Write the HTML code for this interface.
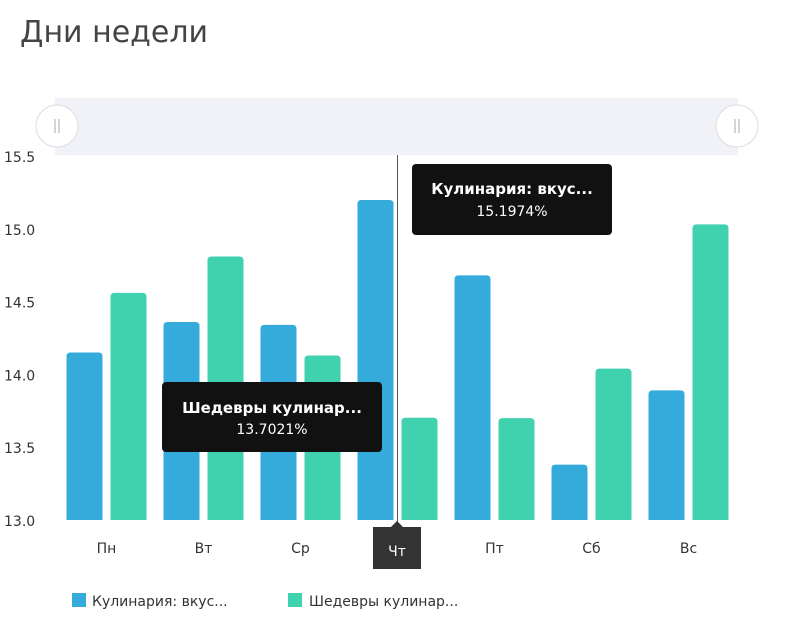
<!DOCTYPE html>
<html><head><meta charset="utf-8"><style>
body{margin:0;background:#fff;font-family:"Liberation Sans","DejaVu Sans",sans-serif;}
#wrap{position:relative;width:800px;height:626px;overflow:hidden;}
</style></head><body>
<div id="wrap">
<svg id="svg" width="800" height="626" xmlns="http://www.w3.org/2000/svg">
<text x="20" y="42" font-size="30" fill="#444" font-family="DejaVu Sans, sans-serif">Дни недели</text>
<rect x="55" y="98" width="683" height="57" fill="#f1f2f8"/>
<g id="bars"></g><g id="yaxis"></g><g id="xaxis"></g>
<line x1="397.5" y1="155" x2="397.5" y2="522" stroke="#555" stroke-width="1"/>
<g><circle cx="57" cy="126" r="21" fill="#fff" stroke="#ddd" stroke-width="1"/><line x1="55" y1="119" x2="55" y2="133" stroke="#aaa"/><line x1="59" y1="119" x2="59" y2="133" stroke="#aaa"/></g>
<g><circle cx="737" cy="126" r="21" fill="#fff" stroke="#ddd" stroke-width="1"/><line x1="735" y1="119" x2="735" y2="133" stroke="#aaa"/><line x1="739" y1="119" x2="739" y2="133" stroke="#aaa"/></g>
<g><rect x="412" y="164" width="200" height="71" rx="4" fill="#111"/><text x="512" y="194" text-anchor="middle" font-size="15" font-weight="bold" fill="#fff" font-family="DejaVu Sans, sans-serif">Кулинария: вкус...</text><text x="512" y="216" text-anchor="middle" font-size="14" fill="#fff" font-family="DejaVu Sans, sans-serif">15.1974%</text></g>
<g><rect x="162" y="382" width="220" height="70" rx="4" fill="#111"/><text x="272" y="413" text-anchor="middle" font-size="15" font-weight="bold" fill="#fff" font-family="DejaVu Sans, sans-serif">Шедевры кулинар...</text><text x="272" y="434" text-anchor="middle" font-size="14" fill="#fff" font-family="DejaVu Sans, sans-serif">13.7021%</text></g>
<g><polygon points="391,527 397,521 403,527" fill="#333"/><rect x="373" y="527" width="48" height="42" fill="#333"/><text x="397" y="556" text-anchor="middle" font-size="14" fill="#fff" font-family="DejaVu Sans, sans-serif">Чт</text></g>
<g><rect x="72" y="593" width="14" height="14" fill="#35abdc"/><text x="92" y="606" font-size="14" fill="#333" font-family="DejaVu Sans, sans-serif">Кулинария: вкус...</text></g>
<g><rect x="288" y="593" width="14" height="14" fill="#40d1ae"/><text x="309" y="606" font-size="14" fill="#333" font-family="DejaVu Sans, sans-serif">Шедевры кулинар...</text></g>
</svg></div>
<script>
const categories=["Пн","Вт","Ср","Чт","Пт","Сб","Вс"];
const series1=[14.15,14.36,14.34,15.1974,14.68,13.38,13.89];
const series2=[14.56,14.81,14.13,13.7021,13.70,14.04,15.03];
const yTicks=[13.0,13.5,14.0,14.5,15.0,15.5];
const NS="http://www.w3.org/2000/svg";
const yMin=13,yMax=15.5,yTop=156,yBot=520,xL=58,xR=737;
function y(v){return yBot-(v-yMin)/(yMax-yMin)*(yBot-yTop);}
const band=(xR-xL)/categories.length;
function xc(i){return xL+band*(i+0.5);}
function mk(t,a){const e=document.createElementNS(NS,t);for(const k in a)e.setAttribute(k,a[k]);return e;}
const bars=document.getElementById('bars'),xa=document.getElementById('xaxis'),ya=document.getElementById('yaxis');
categories.forEach((c,i)=>{
  [[series1,"#35abdc",-40],[series2,"#40d1ae",4]].forEach(([s,col,off],k)=>{
    const top=y(s[i]);
    const r=mk('path',{d:`M${xc(i)+off},${yBot} V${top+4} Q${xc(i)+off},${top} ${xc(i)+off+4},${top} H${xc(i)+off+32} Q${xc(i)+off+36},${top} ${xc(i)+off+36},${top+4} V${yBot} Z`,fill:col});
    
    
    bars.appendChild(r);
  });
  if(c!=="Чт"){
  const t=mk('text',{x:xc(i),y:553,'text-anchor':'middle','font-size':14,fill:'#333','font-family':'DejaVu Sans, sans-serif'});
  t.textContent=c;
  
  
  xa.appendChild(t);}
});
yTicks.forEach(v=>{
  const t=mk('text',{x:4,y:y(v)+6,'font-size':14,fill:'#333','font-family':'DejaVu Sans, sans-serif'});
  t.textContent=v.toFixed(1);
  
  
  ya.appendChild(t);
});
</script>
</body></html>
